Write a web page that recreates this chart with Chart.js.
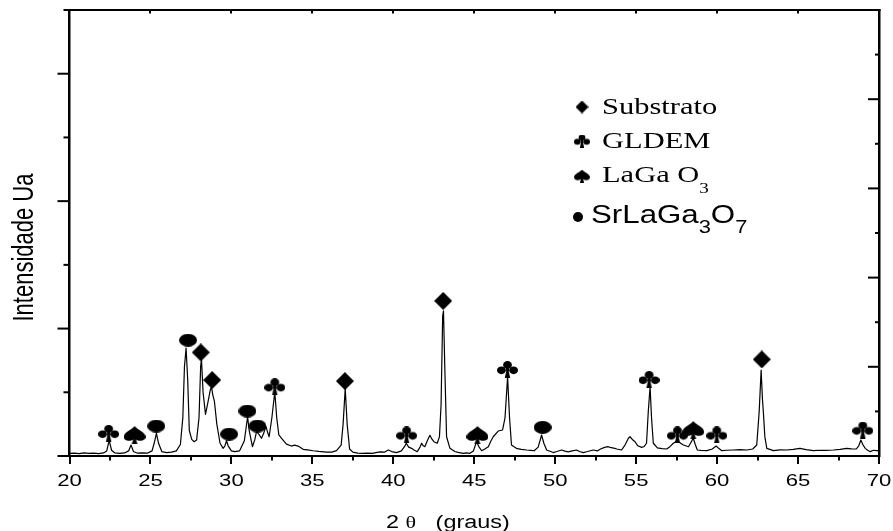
<!DOCTYPE html>
<html>
<head>
<meta charset="utf-8">
<script src="https://cdn.jsdelivr.net/npm/chart.js@4.4.1/dist/chart.umd.min.js"></script>
<style>
  html, body { margin: 0; padding: 0; background: #fff; }
  #wrap { width: 893px; height: 531px; position: relative; }
</style>
</head>
<body>
<div id="wrap"><canvas id="xrd" width="893" height="531"></canvas></div>
<script>
// Diffraction pattern: 2θ (degrees) and intensity (arbitrary units)
const twoTheta = [
  20.0, 20.3, 20.6, 20.9, 21.2, 21.5, 21.8, 22.1, 22.3, 22.45, 22.6, 22.8, 23.1, 23.4, 23.65, 23.8, 23.95,
  24.2, 24.5, 24.8, 25.1, 25.25, 25.37, 25.5, 25.7, 26.0, 26.3, 26.6, 26.85, 27.0, 27.1, 27.2, 27.3, 27.4,
  27.55, 27.7, 27.85, 28.0, 28.1, 28.15, 28.25, 28.4, 28.55, 28.7, 28.77, 28.85, 28.95, 29.1, 29.3, 29.49,
  29.6, 29.7, 29.8, 30.0, 30.21, 30.5, 30.8, 31.0, 31.1, 31.3, 31.45, 31.55, 31.7, 31.86, 32.0, 32.13,
  32.25, 32.33, 32.5, 32.68, 32.8, 32.93, 33.1, 33.4, 33.71, 33.9, 34.12, 34.43, 34.7, 35.05, 35.4, 35.87,
  36.2, 36.49, 36.78, 36.9, 37.03, 37.15, 37.3, 37.5, 37.8, 38.1, 38.4, 38.7, 39.0, 39.2, 39.45, 39.69,
  39.9, 40.2, 40.5, 40.7, 40.8, 40.95, 41.13, 41.3, 41.48, 41.65, 41.75, 41.85, 41.95, 42.1, 42.26, 42.4,
  42.51, 42.71, 42.85, 42.95, 43.05, 43.1, 43.18, 43.29, 43.5, 43.8, 44.0, 44.32, 44.5, 44.73, 44.95,
  45.14, 45.3, 45.46, 45.65, 45.87, 46.0, 46.17, 46.48, 46.75, 46.9, 47.06, 47.18, 47.3, 47.6, 47.9,
  48.24, 48.5, 48.7, 48.95, 49.16, 49.3, 49.47, 49.88, 50.1, 50.4, 50.6, 50.8, 51.05, 51.32, 51.5, 51.73,
  52.0, 52.35, 52.6, 52.8, 53.05, 53.27, 53.39, 53.68, 53.8, 54.1, 54.31, 54.52, 54.62, 54.8, 54.93, 55.1,
  55.34, 55.5, 55.64, 55.75, 55.86, 55.95, 56.06, 56.31, 56.6, 56.89, 57.1, 57.3, 57.55, 57.75, 57.92,
  58.23, 58.4, 58.53, 58.65, 58.78, 59.0, 59.36, 59.7, 59.94, 60.1, 60.29, 60.6, 61.0, 61.4, 61.84, 62.2,
  62.45, 62.6, 62.72, 62.8, 62.86, 62.95, 63.07, 63.48, 63.9, 64.3, 64.7, 65.12, 65.5, 65.95, 66.3, 66.7,
  67.18, 67.6, 68.0, 68.3, 68.6, 68.75, 68.88, 69.0, 69.15, 69.3, 69.46, 69.65, 69.86, 70.0
];
const intensity = [
  20, 22, 18, 24, 20, 23, 19, 24, 40, 120, 45, 24, 20, 24, 40, 86, 35,
  22, 25, 22, 40, 110, 178, 100, 35, 27, 30, 40, 90, 300, 700, 847, 600, 200,
  130, 112, 125, 300, 700, 766, 500, 327, 420, 520, 543, 480, 430, 250, 100, 60,
  80, 120, 80, 40, 35, 40, 120, 308, 200, 73, 130, 191, 170, 139, 180, 235,
  180, 151, 300, 504, 300, 165, 139, 93, 78, 85, 78, 52, 48, 41, 36, 31,
  30, 42, 86, 250, 530, 250, 55, 30, 22, 20, 22, 21, 28, 32, 30, 47,
  35, 27, 40, 75, 100, 70, 60, 45, 34, 70, 100, 80, 73, 120, 162, 130,
  112, 100, 150, 400, 1100, 1140, 700, 151, 60, 35, 28, 21, 25, 21, 40,
  112, 70, 41, 55, 73, 110, 151, 196, 204, 300, 622, 300, 86, 60, 52,
  47, 44, 41, 70, 165, 100, 47, 27, 35, 47, 38, 32, 40, 47, 35, 27,
  35, 47, 40, 55, 68, 73, 68, 60, 55, 47, 86, 139, 151, 125, 112, 80,
  68, 75, 100, 350, 543, 300, 100, 64, 58, 55, 75, 100, 120, 100, 86,
  73, 110, 139, 90, 47, 44, 42, 55, 78, 60, 42, 45, 47, 50, 47, 55,
  86, 350, 674, 450, 337, 150, 60, 42, 48, 47, 52, 60, 50, 42, 45, 44,
  47, 52, 60, 56, 55, 80, 125, 90, 60, 45, 34, 45, 42, 40
];

// Phase identification marks (2θ, height of the mark)
const substratoTheta = [28.11, 28.81, 37.01, 43.08, 62.76];
const substratoMark  = [813, 596, 588, 1217, 758];
const gldemTheta = [22.42, 32.68, 40.82, 47.05, 55.80, 57.55, 59.98, 69.00];
const gldemMark  = [178, 543, 165, 679, 601, 165, 165, 204];
const lagaoTheta = [24.02, 45.20, 58.53];
const lagaoMark  = [165, 165, 204];
const srlagaoTheta = [25.36, 27.32, 29.86, 30.99, 31.61, 49.22];
const srlagaoMark  = [235, 909, 172, 353, 235, 225];

// Axis ticks
const xMajorTicks = [20, 25, 30, 35, 40, 45, 50, 55, 60, 65, 70];
const xTickLabels = ['20', '25', '30', '35', '40', '45', '50', '55', '60', '65', '70'];

const SANS = '"Liberation Sans", Arial, sans-serif';
const SERIF = '"Liberation Serif", "Times New Roman", serif';
const STRETCH = 1.3;

// ---------- mark shapes ----------
function makeCanvas(w, h) {
  const c = document.createElement('canvas');
  c.width = w; c.height = h;
  const g = c.getContext('2d');
  g.fillStyle = '#000';
  return [c, g];
}
function diamond(w, h) {
  const [c, g] = makeCanvas(w, h);
  g.beginPath();
  g.moveTo(w / 2, 0); g.lineTo(w, h / 2); g.lineTo(w / 2, h); g.lineTo(0, h / 2);
  g.closePath(); g.fill();
  return c;
}
function oval(w, h) {
  const [c, g] = makeCanvas(w, h);
  g.beginPath();
  g.ellipse(w / 2, h / 2, w / 2, h / 2, 0, 0, Math.PI * 2);
  g.fill();
  return c;
}
function club(w, h) {
  const [c, g] = makeCanvas(w, h);
  const rx = w * 0.21, ry = h * 0.23;
  const leaf = (cx, cy) => { g.beginPath(); g.ellipse(cx, cy, rx, ry, 0, 0, Math.PI * 2); g.fill(); };
  leaf(w / 2, ry);
  leaf(rx, h * 0.55);
  leaf(w - rx, h * 0.55);
  g.fillRect(w / 2 - w * 0.07, h * 0.3, w * 0.14, h * 0.3);
  g.beginPath();
  g.moveTo(w / 2 - w * 0.04, h * 0.5);
  g.lineTo(w / 2 + w * 0.04, h * 0.5);
  g.lineTo(w / 2 + w * 0.13, h);
  g.lineTo(w / 2 - w * 0.13, h);
  g.closePath(); g.fill();
  return c;
}
function spade(w, h) {
  const [c, g] = makeCanvas(w, h);
  const lobeY = h * 0.6;
  g.beginPath();
  g.moveTo(w / 2, 0);
  g.bezierCurveTo(w * 0.4, h * 0.2, 0, h * 0.34, 0, lobeY);
  g.bezierCurveTo(0, h * 0.86, w * 0.36, h * 0.88, w * 0.47, h * 0.72);
  g.lineTo(w * 0.53, h * 0.72);
  g.bezierCurveTo(w * 0.64, h * 0.88, w, h * 0.86, w, lobeY);
  g.bezierCurveTo(w, h * 0.34, w * 0.6, h * 0.2, w / 2, 0);
  g.closePath(); g.fill();
  g.beginPath();
  g.moveTo(w / 2 - w * 0.04, h * 0.65);
  g.lineTo(w / 2 + w * 0.04, h * 0.65);
  g.lineTo(w / 2 + w * 0.13, h);
  g.lineTo(w / 2 - w * 0.13, h);
  g.closePath(); g.fill();
  return c;
}
const markDiamond = diamond(18, 18);
const markClub = club(21, 17);
const markSpade = spade(22, 18);
const markOval = oval(18, 13);
const keyDiamond = diamond(13, 13);
const keyClub = club(16, 13);
const keySpade = spade(16, 13);
const keyDot = oval(10, 10);

function pts(xs, ys) { return xs.map((v, i) => ({ x: v, y: ys[i] })); }

// ---------- text helpers (horizontally widened lettering) ----------
function wideText(ctx, txt, x, y, font, align, sx) {
  sx = sx || STRETCH;
  ctx.save();
  ctx.font = font;
  ctx.textAlign = 'left';
  ctx.textBaseline = 'alphabetic';
  const w = ctx.measureText(txt).width * sx;
  const x0 = align === 'center' ? x - w / 2 : (align === 'right' ? x - w : x);
  ctx.translate(x0, y);
  ctx.scale(sx, 1);
  ctx.fillStyle = '#000';
  ctx.fillText(txt, 0, 0);
  ctx.restore();
  return w;
}
function runs(ctx, parts, x, y, sx) {
  let cx = x;
  parts.forEach(p => { cx += wideText(ctx, p[0], cx, y + (p[2] || 0), p[1], 'left', sx); });
}

const axesPlugin = {
  id: 'axesDecor',
  afterDraw(chart) {
    const { ctx, chartArea: a, scales } = chart;
    const xs = scales.x, ys = scales.y, ys2 = scales.y2;
    ctx.save();
    ctx.strokeStyle = '#000';
    ctx.lineCap = 'butt';

    // top edge of the frame
    ctx.lineWidth = 2;
    ctx.beginPath();
    ctx.moveTo(a.left - 1.5, a.top); ctx.lineTo(a.right + 1.5, a.top);
    ctx.stroke();

    // bottom axis: outward ticks, major every 5°, minor every 2.5°
    for (let v = 20; v <= 70.001; v += 2.5) {
      const px = Math.round(xs.getPixelForValue(v));
      const major = Math.abs(v / 5 - Math.round(v / 5)) < 1e-6;
      ctx.beginPath();
      ctx.moveTo(px, a.bottom);
      ctx.lineTo(px, a.bottom + (major ? 8 : 4.5));
      ctx.stroke();
    }
    // top axis: short inward ticks at the inner majors
    xMajorTicks.slice(1, -1).forEach(v => {
      const px = Math.round(xs.getPixelForValue(v));
      ctx.beginPath();
      ctx.moveTo(px, a.top); ctx.lineTo(px, a.top + 3.5);
      ctx.stroke();
    });
    // left axis: outward ticks
    for (let v = 0; v <= 3500; v += 500) {
      const py = ys.getPixelForValue(v);
      const major = v % 1000 === 0;
      ctx.beginPath();
      ctx.moveTo(a.left, py); ctx.lineTo(a.left - (major ? 12 : 6), py);
      ctx.stroke();
    }
    // right axis: inward ticks
    for (let v = 500; v <= 4500; v += 500) {
      const py = ys2.getPixelForValue(v);
      const major = v % 1000 === 0;
      ctx.beginPath();
      ctx.moveTo(a.right, py); ctx.lineTo(a.right - (major ? 11 : 4), py);
      ctx.stroke();
    }

    // bottom tick labels
    xMajorTicks.forEach((v, i) => {
      wideText(ctx, xTickLabels[i], xs.getPixelForValue(v), 486, '17px ' + SANS, 'center');
    });

    // axis titles
    ctx.save();
    ctx.translate(32.7, 247.5);
    ctx.scale(STRETCH, 1);
    ctx.rotate(-Math.PI / 2);
    ctx.font = '22px ' + SANS;
    ctx.textAlign = 'center';
    ctx.textBaseline = 'alphabetic';
    ctx.fillStyle = '#000';
    ctx.fillText('Intensidade Ua', 0, 0);
    ctx.restore();

    runs(ctx, [['2 ', '18px ' + SANS], ['\u03b8', '17px ' + SERIF], ['   (graus)', '18px ' + SANS]], 386, 528);

    // key
    const keys = [[keyDiamond, 582, 107], [keyClub, 582, 141], [keySpade, 582, 176], [keyDot, 578, 217]];
    keys.forEach(k => ctx.drawImage(k[0], k[1] - k[0].width / 2, k[2] - k[0].height / 2));
    const kf = '24px ' + SERIF;
    runs(ctx, [['Substrato', kf]], 602, 114, 1.27);
    runs(ctx, [['GLDEM', kf]], 602, 148, 1.27);
    runs(ctx, [['LaGa O', kf], ['3', '15px ' + SERIF, 11]], 602, 182, 1.27);
    const sf = '25px ' + SANS, ss = '17.5px ' + SANS;
    runs(ctx, [['SrLaGa', sf], ['3', ss, 10], ['O', sf], ['7', ss, 10]], 591, 223, 1.25);

    ctx.restore();
  }
};

const markSet = (xs, ys, img) => ({
  type: 'scatter',
  data: pts(xs, ys),
  pointStyle: img,
  pointRadius: 6,
  pointHoverRadius: 6,
  showLine: false,
  borderWidth: 0,
  yAxisID: 'y'
});

new Chart(document.getElementById('xrd'), {
  type: 'line',
  data: {
    datasets: [
      {
        data: pts(twoTheta, intensity),
        borderColor: '#000',
        borderWidth: 1.2,
        borderJoinStyle: 'round',
        pointRadius: 0,
        tension: 0,
        fill: false,
        yAxisID: 'y'
      },
      markSet(substratoTheta, substratoMark, markDiamond),
      markSet(gldemTheta, gldemMark, markClub),
      markSet(lagaoTheta, lagaoMark, markSpade),
      markSet(srlagaoTheta, srlagaoMark, markOval)
    ]
  },
  options: {
    responsive: false,
    animation: false,
    devicePixelRatio: 1,
    layout: { padding: { top: 10, left: 0, right: 0, bottom: 0 } },
    plugins: { legend: { display: false }, tooltip: { enabled: false } },
    scales: {
      x: {
        type: 'linear', position: 'bottom', min: 20, max: 70,
        ticks: { display: false, stepSize: 5 },
        grid: { display: true, drawOnChartArea: false, drawTicks: false },
        border: { display: true, color: '#000', width: 2 },
        afterFit: s => { s.height = 75; }
      },
      y: {
        type: 'linear', position: 'left', min: 0, max: 3500,
        ticks: { display: false, stepSize: 500 },
        grid: { display: true, drawOnChartArea: false, drawTicks: false },
        border: { display: true, color: '#000', width: 2.5 },
        afterFit: s => { s.width = 69.5; }
      },
      y2: {
        type: 'linear', position: 'right', min: 0, max: 5000,
        ticks: { display: false, stepSize: 500 },
        grid: { display: true, drawOnChartArea: false, drawTicks: false },
        border: { display: true, color: '#000', width: 2.5 },
        afterFit: s => { s.width = 14; }
      }
    }
  },
  plugins: [axesPlugin]
});
</script>
</body>
</html>
